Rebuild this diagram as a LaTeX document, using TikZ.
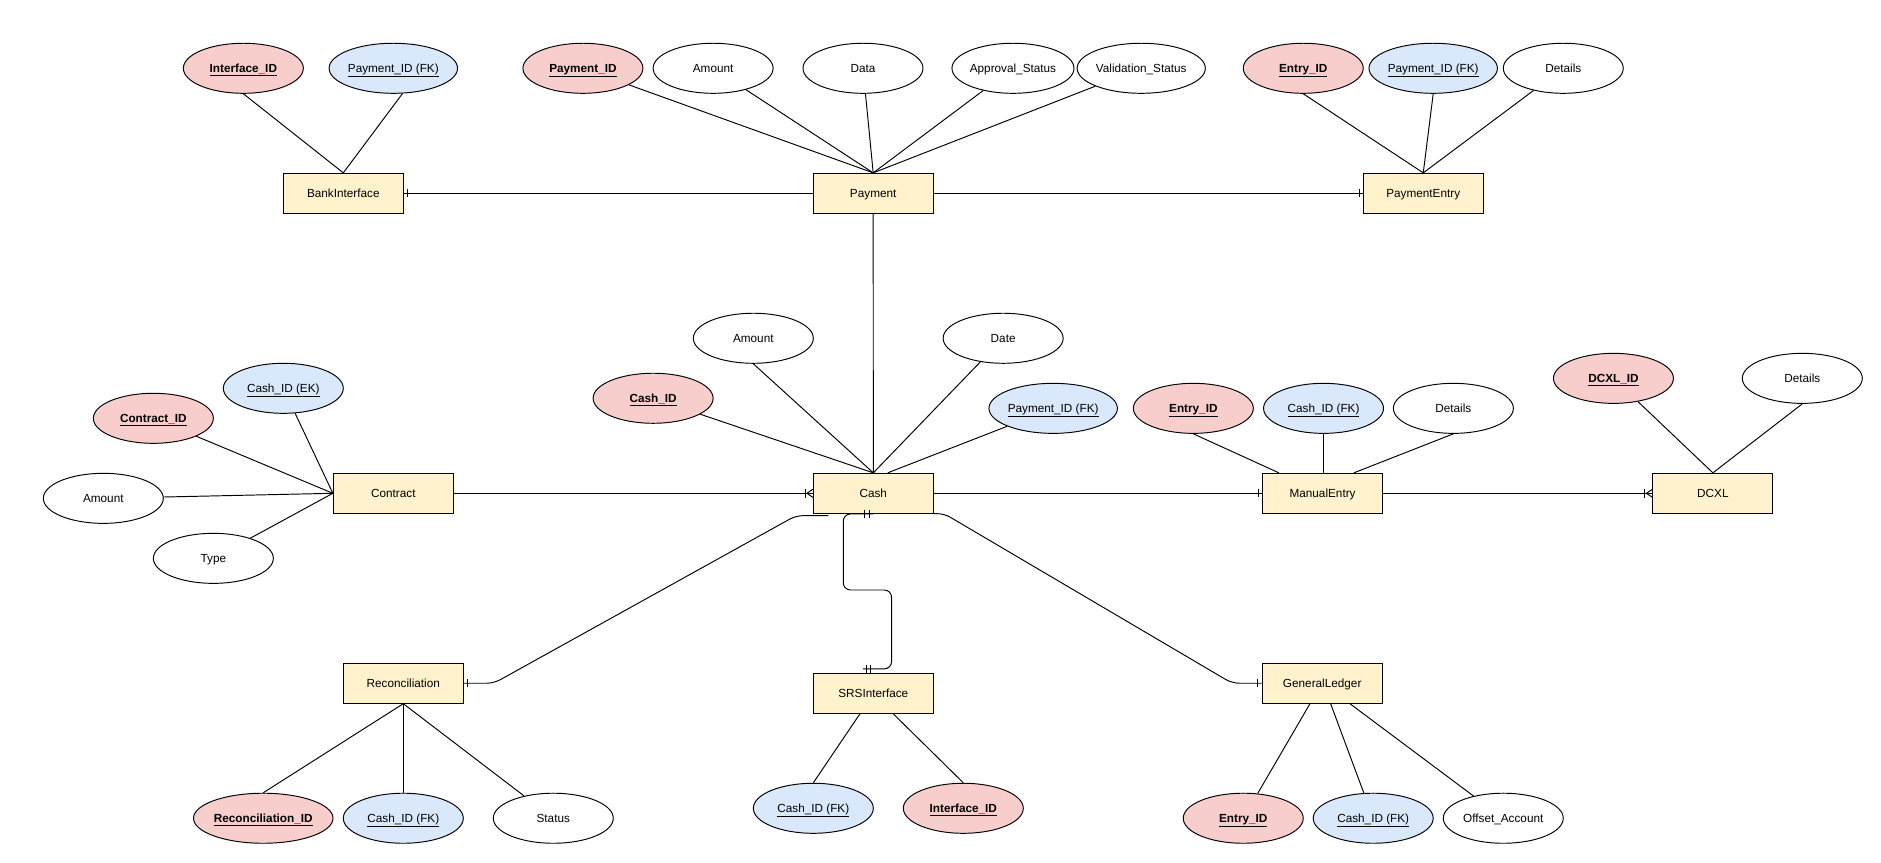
\documentclass[tikz,border=0pt]{standalone}
\usepackage{fontspec}
\setmainfont{Liberation Sans}
\usetikzlibrary{shapes.geometric}
\definecolor{pkfill}{HTML}{F8CECC}
\definecolor{blfill}{HTML}{DAE8FC}
\definecolor{ylfill}{HTML}{FFF2CC}
\begin{document}
\begin{tikzpicture}[x=1pt,y=-1pt,
  font=\fontsize{9.8}{12}\selectfont, line width=0.8pt,
  every node/.style={text height=8pt, text depth=1pt},
  ent/.style={draw, fill=ylfill, minimum width=100pt, minimum height=33.3pt, inner sep=0pt},
  attr/.style={draw, ellipse, fill=white, minimum width=100pt, minimum height=41.7pt, inner sep=0pt},
  keyattr/.style={attr, fill=pkfill, font=\fontsize{9.8}{12}\selectfont\bfseries},
  fkattr/.style={attr, fill=blfill},
  link/.style={draw, line width=0.8pt},
  rel/.style={draw, line width=0.8pt, rounded corners=6pt}
]
\useasboundingbox (0,0) rectangle (1567.6,718.4);

% ---------- entities ----------
\node[ent] (bank) at (286.1,161.1) {BankInterface};
\node[ent] (pay) at (727.7,161.1) {Payment};
\node[ent] (pe) at (1186.1,161.1) {PaymentEntry};
\node[ent] (contract) at (327.8,411.1) {Contract};
\node[ent] (cash) at (727.8,411.1) {Cash};
\node[ent] (me) at (1102.2,411.1) {ManualEntry};
\node[ent] (dcxl) at (1427.5,411.1) {DCXL};
\node[ent] (recon) at (336.1,569.4) {Reconciliation};
\node[ent] (srs) at (727.8,577.8) {SRSInterface};
\node[ent] (gl) at (1101.9,569.4) {GeneralLedger};

% ---------- attributes ----------
\node[keyattr] (biid) at (202.8,56.9) {\underline{Interface\_ID}};
\node[fkattr] (bifk) at (327.8,56.9) {\underline{Payment\_ID (FK)}};
\node[keyattr] (pid) at (485.8,56.9) {\underline{Payment\_ID}};
\node[attr] (pamt) at (594.3,56.9) {Amount};
\node[attr] (pdata) at (719.2,56.9) {Data};
\node[attr] (pappr) at (844.2,56.9) {Approval\_Status};
\node[attr] (pval) at (951.1,56.9) {Validation\_Status};
\node[keyattr] (peid) at (1086.1,56.9) {\underline{Entry\_ID}};
\node[fkattr] (pefk) at (1194.4,56.9) {\underline{Payment\_ID (FK)}};
\node[attr] (pedet) at (1302.8,56.9) {Details};

\node[attr] (camt) at (627.8,281.9) {Amount};
\node[attr] (cdate) at (836,281.9) {Date};
\node[keyattr] (cid) at (544.3,331.9) {\underline{Cash\_ID}};
\node[fkattr] (cfk) at (877.7,340.3) {\underline{Payment\_ID (FK)}};

\node[fkattr] (ctfk) at (236.1,323.6) {\underline{Cash\_ID (EK)}};
\node[keyattr] (ctid) at (127.8,348.6) {\underline{Contract\_ID}};
\node[attr] (ctamt) at (86.1,415.3) {Amount};
\node[attr] (cttype) at (177.8,465.3) {Type};

\node[keyattr] (meid) at (994.5,340.3) {\underline{Entry\_ID}};
\node[fkattr] (mefk) at (1103,340.3) {\underline{Cash\_ID (FK)}};
\node[attr] (medet) at (1211.2,340.3) {Details};

\node[keyattr] (dxid) at (1344.6,315.3) {\underline{DCXL\_ID}};
\node[attr] (dxdet) at (1502,315.3) {Details};

\node[keyattr] (rid) at (219.4,681.9) {\underline{Reconciliation\_ID}};
\node[fkattr] (rfk) at (336.1,681.9) {\underline{Cash\_ID (FK)}};
\node[attr] (rst) at (461.1,681.9) {Status};

\node[fkattr] (sfk) at (677.8,673.6) {\underline{Cash\_ID (FK)}};
\node[keyattr] (sid) at (802.8,673.6) {\underline{Interface\_ID}};

\node[keyattr] (gid) at (1036.1,681.9) {\underline{Entry\_ID}};
\node[fkattr] (gfk) at (1144.4,681.9) {\underline{Cash\_ID (FK)}};
\node[attr] (goff) at (1252.8,681.9) {Offset\_Account};

% ---------- attribute links ----------
\draw[link] (biid.south) -- (bank.north);
\draw[link] (bifk.-70) -- (bank.north);
\foreach \a in {pid,pamt,pdata,pappr,pval} \draw[link] (\a) -- (pay.north);
\draw[link] (peid.south) -- (pe.north);
\draw[link] (pefk.south) -- (pe.north);
\draw[link] (pedet) -- (pe.north);

\draw[link] (cid) -- (cash.north);
\draw[link] (camt.south) -- (cash.north);
\draw[link] (cdate) -- (cash.north);
\draw[link] (cfk) -- ([xshift=12pt]cash.north);

\foreach \a in {ctfk,ctid,ctamt,cttype} \draw[link] (\a) -- (contract.west);

\draw[link] (meid.south) -- ([xshift=-36.4pt]me.north);
\draw[link] (mefk.south) -- (mefk.south |- me.north);
\draw[link] (medet.south) -- ([xshift=26.1pt]me.north);

\draw[link] (dxid) -- (dcxl.north);
\draw[link] (dxdet.south) -- (dcxl.north);

\draw[link] (rid.north) -- (recon.south);
\draw[link] (rfk.north) -- (recon.south);
\draw[link] (rst) -- (recon.south);

\draw[link] (sfk.north) -- ([xshift=-11.1pt]srs.south);
\draw[link] (sid.north) -- ([xshift=16.6pt]srs.south);

\draw[link] (gid) -- ([xshift=-10.2pt]gl.south);
\draw[link] (gfk) -- ([xshift=7pt]gl.south);
\draw[link] (goff) -- ([xshift=23.1pt]gl.south);

% ---------- relationships ----------
% Bank -- Payment (one at Bank)
\draw[link] (bank.east) -- (pay.west);
\draw[link] ([xshift=2.8pt,yshift=3.3pt]bank.east) -- ([xshift=2.8pt,yshift=-3.3pt]bank.east);
% Payment -- PaymentEntry (one at PaymentEntry)
\draw[link] (pay.east) -- (pe.west);
\draw[link] ([xshift=-2.8pt,yshift=3.3pt]pe.west) -- ([xshift=-2.8pt,yshift=-3.3pt]pe.west);
% Payment -- Cash
\draw[link] (pay.south) -- (cash.north);
% Contract -- Cash (one-or-many at Cash)
\draw[link] (contract.east) -- (cash.west);
\draw[link] ([xshift=-6.4pt,yshift=3.6pt]cash.west) -- ([xshift=-6.4pt,yshift=-3.6pt]cash.west);
\draw[link] ([xshift=-5pt]cash.west) -- ([yshift=3.4pt]cash.west);
\draw[link] ([xshift=-5pt]cash.west) -- ([yshift=-3.4pt]cash.west);
% Cash -- ManualEntry (one at ManualEntry)
\draw[link] (cash.east) -- (me.west);
\draw[link] ([xshift=-2.6pt,yshift=3.3pt]me.west) -- ([xshift=-2.6pt,yshift=-3.3pt]me.west);
% ManualEntry -- DCXL (one-or-many at DCXL)
\draw[link] (me.east) -- (dcxl.west);
\draw[link] ([xshift=-6.4pt,yshift=3.6pt]dcxl.west) -- ([xshift=-6.4pt,yshift=-3.6pt]dcxl.west);
\draw[link] ([xshift=-5pt]dcxl.west) -- ([yshift=3.4pt]dcxl.west);
\draw[link] ([xshift=-5pt]dcxl.west) -- ([yshift=-3.4pt]dcxl.west);

% Cash -- Reconciliation
\coordinate (rend) at (690.3,429.7);
\draw[rel] (recon.east) -- (411.6,569.4) -- (663.4,429.7) -- (rend);
\draw[link] ([xshift=3.3pt,yshift=3.3pt]recon.east) -- ([xshift=3.3pt,yshift=-3.3pt]recon.east);

% Cash -- SRSInterface (mandatory one both ends)
\coordinate (sstart) at (727.8,428.3);
\coordinate (send) at (719.4,557.4);
\draw[rel] (sstart) -- (702.8,428.3) -- (702.8,491.7) -- (743,491.7) -- (743,557.4) -- (send);
\draw[link] (720.8,425) -- (720.8,431.4);
\draw[link] (724.2,425) -- (724.2,431.4);
\draw[link] (722.2,554.2) -- (722.2,560.6);
\draw[link] (725.2,554.2) -- (725.2,560.6);

% Cash -- GeneralLedger (one at GL)
\draw[rel] (cash.south east) -- (786.4,427.8) -- (1026.8,569.4) -- (gl.west);
\draw[link] ([xshift=-3.3pt,yshift=3.3pt]gl.west) -- ([xshift=-3.3pt,yshift=-3.3pt]gl.west);
\end{tikzpicture}
\end{document}
